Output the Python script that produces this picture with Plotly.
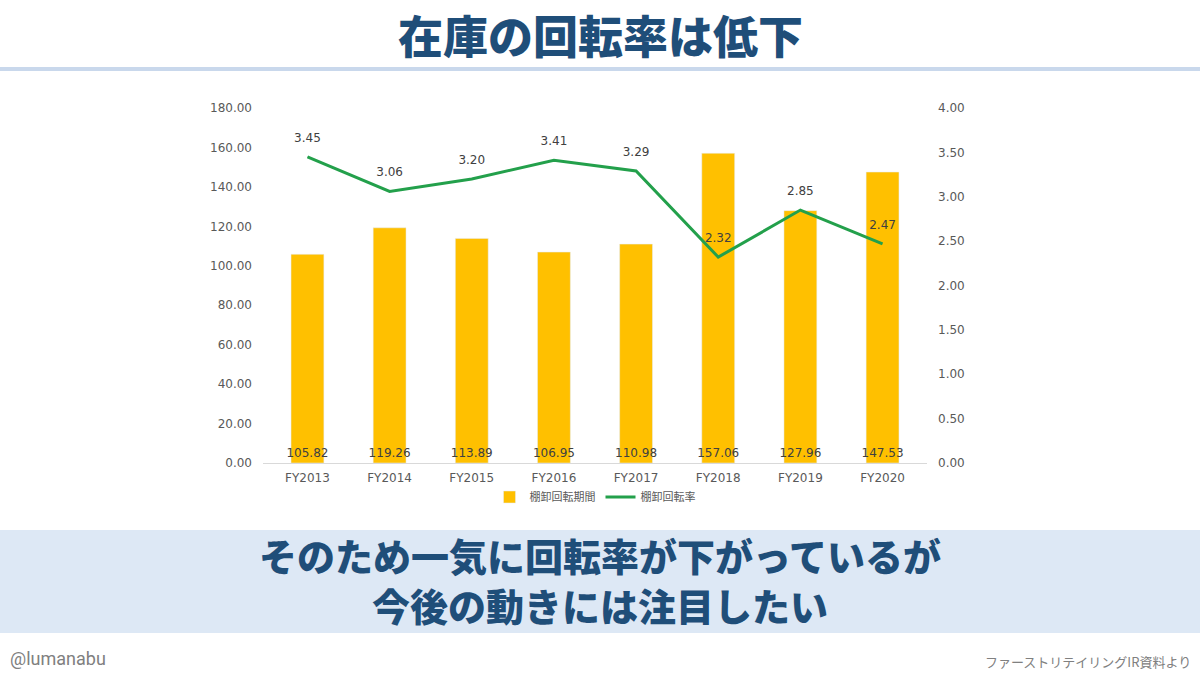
import plotly.graph_objects as go

categories = ["FY2013", "FY2014", "FY2015", "FY2016", "FY2017", "FY2018", "FY2019", "FY2020"]
period_days = [105.82, 119.26, 113.89, 106.95, 110.98, 157.06, 127.96, 147.53]
turnover = [3.45, 3.06, 3.20, 3.41, 3.29, 2.32, 2.85, 2.47]
left_ticks = [0, 20, 40, 60, 80, 100, 120, 140, 160, 180]
right_ticks = [0, 0.5, 1, 1.5, 2, 2.5, 3, 3.5, 4]

W, H = 1200, 675
ML, MR, MT, MB = 263, 273, 108, 212
PW, PH = W - ML - MR, H - MT - MB


def px(x):
    return (x - ML) / PW


def py(y):
    return (H - MB - y) / PH


NAVY = "#1F4E79"
GRAY = "#595959"
JP = "Noto Sans CJK JP"
LAT = "DejaVu Sans, Noto Sans CJK JP"

fig = go.Figure()
fig.add_trace(go.Bar(
    x=categories, y=period_days, name="棚卸回転期間",
    marker=dict(color="#FFC000"), width=0.4,
    text=[f"{v:.2f}" for v in period_days],
    textposition="inside", insidetextanchor="start", textangle=0,
    constraintext="none", cliponaxis=False,
    textfont=dict(family=LAT, size=12, color="#404040"),
))
fig.add_trace(go.Scatter(
    x=categories, y=turnover, name="棚卸回転率", yaxis="y2",
    mode="lines+markers+text", line=dict(color="#23A04B", width=3),
    marker=dict(size=18, color="rgba(0,0,0,0)"),
    text=[f"{v:.2f}" for v in turnover], textposition="top center",
    textfont=dict(family=LAT, size=12, color="#404040"),
    cliponaxis=False,
))

shapes = [
    dict(type="rect", xref="paper", yref="paper", x0=px(0), x1=px(W), y0=py(633), y1=py(530),
         fillcolor="#DDE8F5", line=dict(width=0), layer="below"),
    dict(type="line", xref="paper", yref="paper", x0=px(0), x1=px(W), y0=py(69), y1=py(69),
         line=dict(color="#C9D8EC", width=4)),
]

annotations = [
    dict(text="在庫の回転率は低下", xref="paper", yref="paper", x=px(600), y=py(34),
         showarrow=False, xanchor="center", yanchor="middle",
         font=dict(family=JP, size=45, color=NAVY, weight=900)),
    dict(text="そのため一気に回転率が下がっているが", xref="paper", yref="paper",
         x=px(600), y=py(554), showarrow=False, xanchor="center", yanchor="middle",
         font=dict(family=JP, size=38, color=NAVY, weight=900)),
    dict(text="今後の動きには注目したい", xref="paper", yref="paper",
         x=px(600), y=py(604), showarrow=False, xanchor="center", yanchor="middle",
         font=dict(family=JP, size=38, color=NAVY, weight=900)),
    dict(text="@lumanabu", xref="paper", yref="paper", x=px(8), y=py(658),
         showarrow=False, xanchor="left", yanchor="middle",
         font=dict(family="Roboto, Noto Sans", size=18, color="#808080")),
    dict(text="ファーストリテイリングIR資料より", xref="paper", yref="paper", x=px(1193), y=py(661),
         showarrow=False, xanchor="right", yanchor="middle",
         font=dict(family=JP, size=13, color="#808080")),
]

fig.update_layout(
    width=W, height=H,
    margin=dict(l=ML, r=MR, t=MT, b=MB),
    paper_bgcolor="white", plot_bgcolor="white",
    showlegend=True,
    legend=dict(orientation="h", x=0.5, xanchor="center", y=py(497), yanchor="middle",
                font=dict(family=JP, size=11, color=GRAY), bgcolor="rgba(0,0,0,0)"),
    xaxis=dict(showgrid=False, showline=True, linecolor="#D9D9D9", linewidth=1,
               tickfont=dict(family=LAT, size=12, color=GRAY), ticks="", ticklabelstandoff=4),
    yaxis=dict(range=[0, 180], tickvals=left_ticks, tickformat=".2f", showgrid=False,
               zeroline=False, showline=False, ticks="",
               tickfont=dict(family=LAT, size=12, color=GRAY), ticklabelstandoff=10),
    yaxis2=dict(range=[0, 4], tickvals=right_ticks, tickformat=".2f", overlaying="y", side="right",
                showgrid=False, zeroline=False, showline=False, ticks="",
                tickfont=dict(family=LAT, size=12, color=GRAY), ticklabelstandoff=10),
    shapes=shapes, annotations=annotations,
)

fig.write_html("out.html", config={"displayModeBar": False},
               post_script="document.body.style.margin='0';document.body.style.overflow='hidden';")
